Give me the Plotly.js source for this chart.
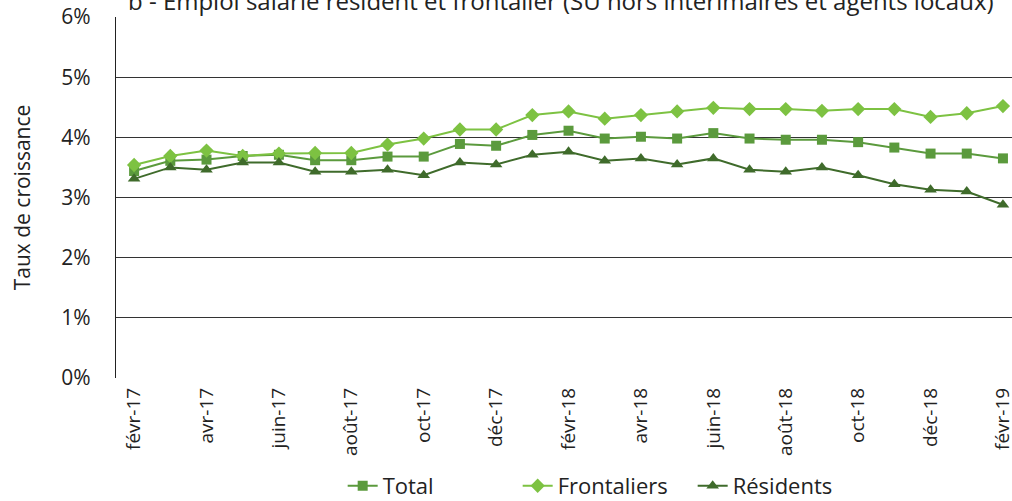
<!DOCTYPE html>
<html>
<head>
<meta charset="utf-8">
<script src="https://cdn.plot.ly/plotly-3.0.1.min.js"></script>
<style>html,body{margin:0;padding:0;background:#fff;}#chart{width:1012px;height:501px;}</style>
</head>
<body>
<div id="chart"></div>
<script>
const months = ["févr-17","mars-17","avr-17","mai-17","juin-17","juil-17","août-17","sept-17","oct-17","nov-17","déc-17","janv-18",
  "févr-18","mars-18","avr-18","mai-18","juin-18","juil-18","août-18","sept-18","oct-18","nov-18","déc-18","janv-19","févr-19"];
const tickLabels = ["févr-17","avr-17","juin-17","août-17","oct-17","déc-17","févr-18","avr-18","juin-18","août-18","oct-18","déc-18","févr-19"];
const total = [3.44,3.61,3.63,3.69,3.71,3.62,3.62,3.68,3.68,3.89,3.86,4.04,4.11,3.98,4.01,3.98,4.07,3.98,3.96,3.96,3.92,3.83,3.73,3.73,3.65];
const frontaliers = [3.54,3.69,3.78,3.69,3.73,3.74,3.74,3.88,3.98,4.13,4.13,4.37,4.43,4.31,4.37,4.43,4.49,4.47,4.47,4.44,4.47,4.47,4.34,4.40,4.52];
const residents = [3.31,3.50,3.46,3.58,3.58,3.43,3.43,3.46,3.37,3.58,3.55,3.71,3.76,3.61,3.65,3.55,3.65,3.46,3.43,3.50,3.37,3.22,3.13,3.10,2.88];
const yTicks = [0,1,2,3,4,5,6];
const titleText = "b - Emploi salarié résident et frontalier (SU hors intérimaires et agents locaux)";

const font = "Open Sans, Noto Sans, sans-serif";
const traces = [
  {x: months, y: total, name: "Total", type: "scatter", mode: "lines+markers",
   line: {color: "#5b9a3d", width: 2}, marker: {symbol: "square", size: 10, color: "#5b9a3d"}},
  {x: months, y: frontaliers, name: "Frontaliers", type: "scatter", mode: "lines+markers",
   line: {color: "#7dc242", width: 2}, marker: {symbol: "diamond", size: 11, color: "#7dc242"}},
  {x: months, y: residents, name: "Résidents", type: "scatter", mode: "lines+markers",
   line: {color: "#3f6b2b", width: 2}, marker: {symbol: "triangle-up", size: 11, color: "#3f6b2b"}}
];
const layout = {
  width: 1012, height: 501,
  margin: {l: 116, r: 0, t: 17, b: 123, autoexpand: false},
  paper_bgcolor: "#fff", plot_bgcolor: "#fff",
  font: {family: font, color: "#222", size: 20},
  showlegend: true,
  annotations: [{text: titleText, xref: "paper", yref: "paper", x: 0.497, y: 1.047,
    xanchor: "center", yanchor: "middle", showarrow: false,
    font: {family: font, size: 24, color: "#222"}}],
  xaxis: {type: "category", categoryorder: "array", categoryarray: months, automargin: false,
    range: [-0.5, 24.25], tickmode: "array", tickvals: tickLabels, ticktext: tickLabels,
    tickangle: -90, tickfont: {size: 19, family: font, color: "#222"},
    showgrid: false, showline: false, zeroline: false, ticks: "", ticklabelstandoff: 5},
  yaxis: {range: [0, 6], tickvals: yTicks, ticktext: yTicks.map(v => v + "%"), automargin: false,
    showgrid: true, gridcolor: "#333", gridwidth: 1.3, zeroline: false,
    showline: true, linecolor: "#222", linewidth: 1.3, ticks: "",
    tickfont: {size: 21, family: font, color: "#222"}, ticklabelstandoff: 20,
    title: {text: "Taux de croissance", font: {size: 21, family: font, color: "#222"}, standoff: 24}},
  legend: {orientation: "h", xref: "container", yref: "container", x: 0.598, xanchor: "center",
    y: 0.03, yanchor: "middle", entrywidth: 130, entrywidthmode: "pixels",
    font: {size: 22, family: font, color: "#222"}, traceorder: "normal"}
};
Plotly.newPlot("chart", traces, layout, {displayModeBar: false, staticPlot: true});
</script>
</body>
</html>
